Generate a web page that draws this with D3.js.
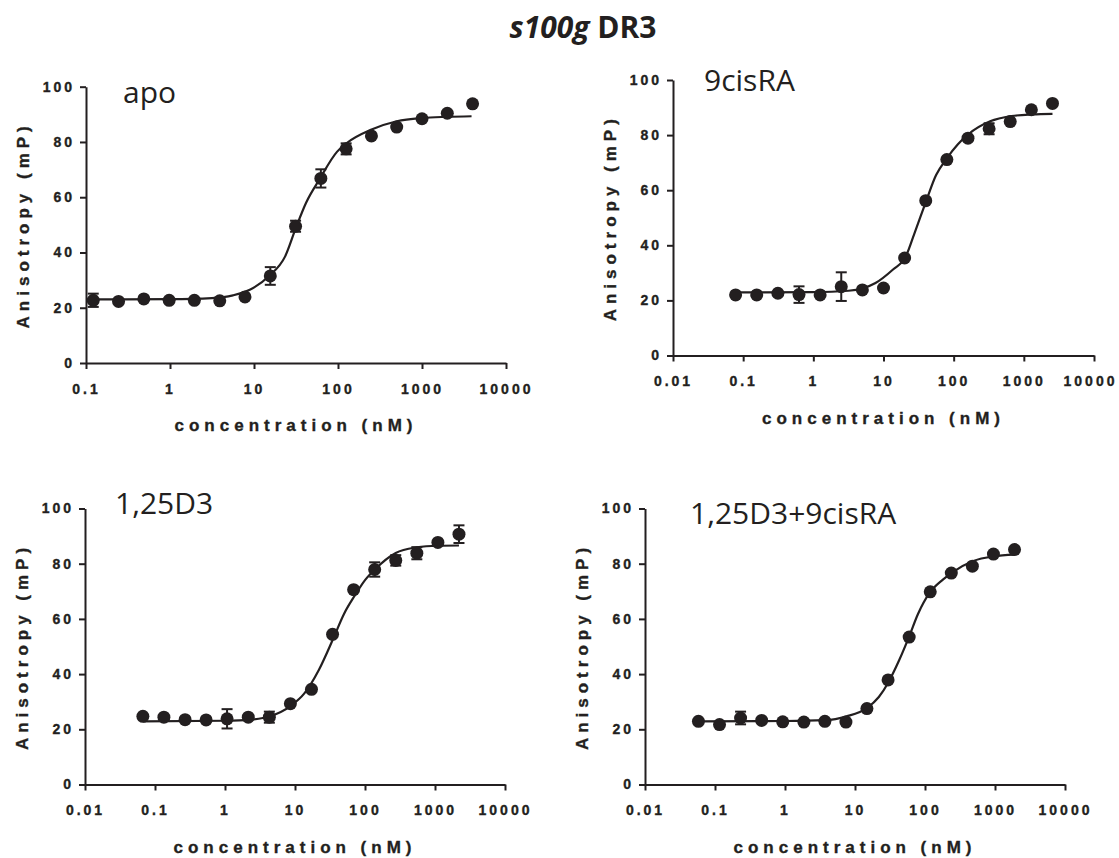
<!DOCTYPE html>
<html>
<head>
<meta charset="utf-8">
<script src="https://cdn.jsdelivr.net/npm/d3@7"></script>
<style>
  body { margin: 0; background: #fff; }
  svg text { fill: #231f20; }
  .tick text { font-family: "Liberation Sans", Arial, sans-serif; font-weight: bold; font-size: 14px; letter-spacing: 3px; stroke: #231f20; stroke-width: 0.35px; }
  .axis-title { font-family: "Liberation Sans", Arial, sans-serif; font-weight: bold; font-size: 17px; letter-spacing: 5px; stroke: #231f20; stroke-width: 0.35px; }
  .panel-label { font-family: "Open Sans", sans-serif; font-size: 30px; }
  .fig-title { font-family: "Open Sans", sans-serif; font-weight: bold; font-size: 30px; }
</style>
</head>
<body>
<svg id="fig" width="1119" height="858"></svg>
<script>
"use strict";

const INK = "#231f20";
const PANEL_NAMES = ["apo", "9cisRA", "1,25D3", "1,25D3+9cisRA"];
const Y_TICKS = [0, 20, 40, 60, 80, 100];
const X_TICKS_LONG = [0.01, 0.1, 1, 10, 100, 1000, 10000];
const X_TICKS_SHORT = [0.1, 1, 10, 100, 1000, 10000];
const X_TICK_LABELS = {0.01: "0.01", 0.1: "0.1", 1: "1", 10: "10", 100: "100", 1000: "1000", 10000: "10000"};
const Y_LABEL = "Anisotropy (mP)";
const X_LABEL = "concentration (nM)";

// apo
const apoConc = [0.122, 0.244, 0.488, 0.977, 1.95, 3.91, 7.81, 15.63, 31.25, 62.5, 125, 250, 500, 1000, 2000, 4000];
const apoMean = [22.7, 22.3, 23.2, 22.7, 22.7, 22.5, 23.9, 31.5, 49.5, 66.8, 77.5, 82.2, 85.4, 88.4, 90.4, 93.8];
const apoErr  = [2.4, 0, 0, 0, 0, 0, 0, 3.2, 2.0, 3.3, 2.0, 0, 0, 0, 0, 0];
const apoFitConc = [0.105, 1, 3.16, 5.62, 8.91, 15.1, 23.4, 31.6, 41.7, 60.3, 97.7, 126, 251, 501, 1000, 1995, 3890];
const apoFitVal  = [23.0, 23.1, 23.5, 24.5, 26.5, 31.5, 38.5, 49.0, 58.0, 66.5, 76.5, 79.5, 84.5, 87.5, 88.7, 89.1, 89.3];

// 9cisRA
const rxrConc = [0.078, 0.156, 0.3125, 0.625, 1.25, 2.5, 5, 10, 20, 40, 80, 160, 320, 640, 1280, 2560];
const rxrMean = [22.0, 22.0, 22.6, 22.1, 22.0, 25.0, 23.8, 24.5, 35.4, 56.2, 71.1, 78.9, 82.3, 84.9, 89.2, 91.5];
const rxrErr  = [0, 0, 0, 3.0, 0, 5.2, 0, 0, 0, 0, 0, 0, 2.0, 0, 0, 0];
const rxrFitConc = [0.078, 1, 3.16, 7.69, 13.8, 20.4, 28.2, 39.8, 56.2, 79.4, 115, 162, 331, 661, 1318, 2560];
const rxrFitVal  = [22.9, 23.0, 23.5, 26.3, 31.3, 35.5, 45.0, 55.5, 65.5, 71.5, 76.7, 80.3, 85.0, 86.9, 87.5, 87.7];

// 1,25D3
const vdConc = [0.0671, 0.134, 0.269, 0.537, 1.07, 2.15, 4.30, 8.59, 17.2, 34.4, 68.8, 137.5, 275, 550, 1100, 2200];
const vdMean = [24.7, 24.4, 23.5, 23.4, 23.8, 24.4, 24.4, 29.3, 34.5, 54.4, 70.6, 77.9, 81.2, 83.8, 87.7, 90.7];
const vdErr  = [0, 0, 0, 0, 3.5, 0, 2.0, 0, 0, 0, 0, 2.6, 1.9, 2.2, 0, 3.2];
const vdFitConc = [0.0671, 1, 2.34, 4.37, 8.71, 13.6, 21.9, 35.1, 50.1, 70.8, 102, 138, 275, 550, 1096, 2200];
const vdFitVal  = [22.9, 23.1, 23.5, 24.7, 28.5, 33.0, 41.5, 52.8, 61.8, 68.3, 74.3, 77.9, 83.9, 85.9, 86.5, 86.6];

// 1,25D3+9cisRA
const bothConc = [0.058, 0.116, 0.232, 0.464, 0.928, 1.86, 3.71, 7.42, 14.8, 29.7, 59.4, 118.8, 237.5, 475, 950, 1900];
const bothMean = [22.9, 21.7, 24.1, 23.2, 22.7, 22.6, 22.9, 22.6, 27.5, 37.9, 53.4, 69.8, 76.6, 79.1, 83.5, 85.1];
const bothErr  = [0, 0, 2.3, 0, 0, 0, 0, 0, 0, 0, 0, 0, 0, 0, 0, 0];
const bothFitConc = [0.058, 1, 3.72, 7.59, 14.8, 21.9, 29.5, 42.7, 58.9, 79.4, 117, 182, 240, 479, 955, 1900];
const bothFitVal  = [22.9, 23.0, 23.3, 24.7, 27.7, 31.7, 36.7, 45.0, 53.4, 61.8, 69.5, 74.3, 76.7, 80.9, 82.7, 83.3];

// plot boxes in pixels: l/r = x axis ends, t = y at 100, b = y at 0
const panels = [
  { name: PANEL_NAMES[0], conc: apoConc, mean: apoMean, err: apoErr, fitC: apoFitConc, fitV: apoFitVal,
    ticks: X_TICKS_SHORT, box: { l: 86, r: 506, t: 86.7, b: 363 }, lab: [123, 103] },
  { name: PANEL_NAMES[1], conc: rxrConc, mean: rxrMean, err: rxrErr, fitC: rxrFitConc, fitV: rxrFitVal,
    ticks: X_TICKS_LONG, box: { l: 673, r: 1094, t: 80, b: 355.5 }, lab: [704, 91] },
  { name: PANEL_NAMES[2], conc: vdConc, mean: vdMean, err: vdErr, fitC: vdFitConc, fitV: vdFitVal,
    ticks: X_TICKS_LONG, box: { l: 85, r: 505, t: 508.5, b: 784.5 }, lab: [115, 514] },
  { name: PANEL_NAMES[3], conc: bothConc, mean: bothMean, err: bothErr, fitC: bothFitConc, fitV: bothFitVal,
    ticks: X_TICKS_LONG, box: { l: 645, r: 1065, t: 508.5, b: 784.5 }, lab: [690, 524] }
];

const svg = d3.select("#fig");

// figure title
const title = svg.append("text")
  .attr("class", "fig-title")
  .attr("x", 583)
  .attr("y", 38)
  .attr("text-anchor", "middle");
title.append("tspan").attr("font-style", "italic").text("s100g");
title.append("tspan").text(" DR3");

function drawPanel(p) {
  const g = svg.append("g");
  const x = d3.scaleLog()
    .domain([p.ticks[0], p.ticks[p.ticks.length - 1]])
    .range([p.box.l, p.box.r]);
  const y = d3.scaleLinear()
    .domain([0, 100])
    .range([p.box.b, p.box.t]);

  // axes
  const xAxis = g.append("g")
    .attr("transform", `translate(0, ${p.box.b})`)
    .call(d3.axisBottom(x)
      .tickValues(p.ticks)
      .tickFormat(d => X_TICK_LABELS[d])
      .tickSize(6)
      .tickSizeOuter(0)
      .tickPadding(15));
  const yAxis = g.append("g")
    .attr("transform", `translate(${p.box.l}, 0)`)
    .call(d3.axisLeft(y)
      .tickValues(Y_TICKS)
      .tickSize(6)
      .tickSizeOuter(0)
      .tickPadding(5));
  [xAxis, yAxis].forEach(a => {
    a.select(".domain").attr("stroke", INK).attr("stroke-width", 2);
    a.selectAll(".tick line").attr("stroke", INK).attr("stroke-width", 2);
  });
  // keep the right-most label inside the page
  if (p.box.r > 1080) {
    xAxis.selectAll(".tick text").filter(d => d === 10000).attr("dx", -4);
  }

  // axis titles
  g.append("text")
    .attr("class", "axis-title")
    .attr("text-anchor", "middle")
    .attr("x", (p.box.l + p.box.r) / 2)
    .attr("y", p.box.b + 68)
    .text(X_LABEL);
  g.append("text")
    .attr("class", "axis-title")
    .attr("text-anchor", "middle")
    .attr("transform", `translate(${p.box.l - 57}, ${(p.box.t + p.box.b) / 2}) rotate(-90)`)
    .text(Y_LABEL);

  // panel label
  g.append("text")
    .attr("class", "panel-label")
    .attr("x", p.lab[0])
    .attr("y", p.lab[1])
    .text(p.name);

  // fitted curve
  const fit = p.fitC.map((c, i) => [c, p.fitV[i]]);
  g.append("path")
    .datum(fit)
    .attr("fill", "none")
    .attr("stroke", INK)
    .attr("stroke-width", 2.2)
    .attr("d", d3.line()
      .x(d => x(d[0]))
      .y(d => y(d[1]))
      .curve(d3.curveMonotoneX));

  const pts = p.conc.map((c, i) => ({ c: c, m: p.mean[i], e: p.err[i] }));

  // error bars
  const eb = g.selectAll(".eb")
    .data(pts.filter(d => d.e > 0))
    .join("g")
    .attr("stroke", INK)
    .attr("stroke-width", 2);
  eb.append("line")
    .attr("x1", d => x(d.c)).attr("x2", d => x(d.c))
    .attr("y1", d => y(d.m - d.e)).attr("y2", d => y(d.m + d.e));
  eb.append("line")
    .attr("x1", d => x(d.c) - 5.5).attr("x2", d => x(d.c) + 5.5)
    .attr("y1", d => y(d.m + d.e)).attr("y2", d => y(d.m + d.e));
  eb.append("line")
    .attr("x1", d => x(d.c) - 5.5).attr("x2", d => x(d.c) + 5.5)
    .attr("y1", d => y(d.m - d.e)).attr("y2", d => y(d.m - d.e));

  // points
  g.selectAll("circle")
    .data(pts)
    .join("circle")
    .attr("cx", d => x(d.c))
    .attr("cy", d => y(d.m))
    .attr("r", 6.5)
    .attr("fill", INK);
}

panels.forEach(drawPanel);
</script>
</body>
</html>
